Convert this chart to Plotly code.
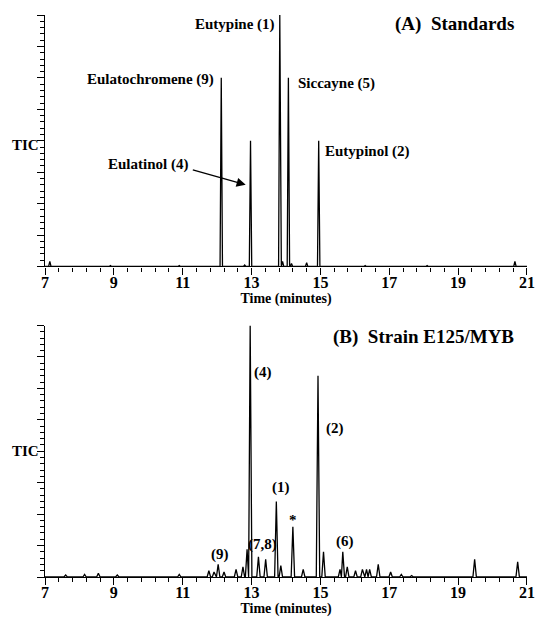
import plotly.graph_objects as go
from plotly.subplots import make_subplots

# ---------------- data ----------------
# Panel A (standards): retention time (min) and relative TIC height
std_times = [7.14, 8.9, 10.9, 12.12, 12.8, 12.97, 13.82, 13.9, 14.07, 14.16, 14.6, 14.95, 16.3, 18.1, 20.65]
std_heights = [0.02, 0.004, 0.004, 0.75, 0.006, 0.50, 1.0, 0.02, 0.75, 0.012, 0.015, 0.50, 0.004, 0.004, 0.02]

# Panel B (strain E125/MYB)
strain_times = [7.6, 8.15, 8.55, 9.1, 10.9, 11.76, 11.91, 12.03, 12.2, 12.55, 12.75, 12.87,
                12.96, 13.2, 13.41, 13.72, 13.85, 14.2, 14.5, 14.93, 15.09, 15.57, 15.65,
                15.78, 16.02, 16.22, 16.34, 16.43, 16.68, 17.04, 17.35, 17.65, 19.48, 20.73]
strain_heights = [0.008, 0.01, 0.015, 0.008, 0.01, 0.025, 0.02, 0.05, 0.02, 0.03, 0.04, 0.11,
                  1.0, 0.08, 0.07, 0.30, 0.045, 0.20, 0.03, 0.80, 0.10, 0.03, 0.10,
                  0.04, 0.025, 0.03, 0.03, 0.03, 0.05, 0.02, 0.01, 0.006, 0.07, 0.06]

x_start, x_end = 7, 21
x_tick_vals = [7, 9, 11, 13, 15, 17, 19, 21]
x_tick_text = ["7", "9", "11", "13", "15", "17", "19", "21"]

std_labels = ["Eutypine (1)", "Eulatochromene (9)", "Siccayne (5)", "Eulatinol (4)", "Eutypinol (2)"]
strain_labels = ["(4)", "(2)", "(1)", "*", "(6)", "(7,8)", "(9)"]


def trace_xy(times, heights, hw):
    xs, ys = [x_start], [0.0]
    n = len(times)
    for i, (t, h) in enumerate(zip(times, heights)):
        left = t - hw
        right = t + hw
        if i > 0:
            left = max(left, (times[i - 1] + t) / 2)
        if i < n - 1:
            right = min(right, (times[i + 1] + t) / 2)
        xs += [left, t, right]
        ys += [0.0, h, 0.0]
    xs.append(x_end)
    ys.append(0.0)
    return xs, ys


FONT = "Liberation Serif"

fig = make_subplots(rows=2, cols=1, vertical_spacing=0.105)

xa, ya = trace_xy(std_times, std_heights, 0.035)
fig.add_trace(go.Scatter(x=xa, y=ya, mode="lines", line=dict(color="black", width=1.3),
                         showlegend=False, hoverinfo="skip", cliponaxis=False), row=1, col=1)
xb, yb = trace_xy(strain_times, strain_heights, 0.05)
fig.add_trace(go.Scatter(x=xb, y=yb, mode="lines", line=dict(color="black", width=1.3),
                         showlegend=False, hoverinfo="skip", cliponaxis=False), row=2, col=1)

xaxis_style = dict(
    range=[x_start, x_end + 0.001], showline=True, linecolor="black", linewidth=1.2,
    ticks="outside", ticklen=7, tickwidth=1.2, tickcolor="black",
    tickvals=x_tick_vals, ticktext=x_tick_text, ticklabelstandoff=-6,
    ticklabeloverflow="allow", automargin=False,
    tickfont=dict(family=FONT, size=16, color="black", weight="bold"),
    minor=dict(dtick=0.4, tick0=7, ticks="outside", ticklen=4, tickwidth=1, tickcolor="black"),
    showgrid=False, zeroline=False, mirror=False,
    title=dict(text="Time (minutes)", font=dict(family=FONT, size=14, color="black", weight="bold"),
               standoff=0),
)
yaxis_style = dict(
    range=[0, 1.0], showline=True, linecolor="black", linewidth=1.2,
    ticks="outside", ticklen=7, tickwidth=1.2, tickcolor="black",
    dtick=0.125, tick0=0, showticklabels=False, automargin=False,
    minor=dict(dtick=0.025, ticks="outside", ticklen=3.5, tickwidth=1, tickcolor="black"),
    showgrid=False, zeroline=False,
)
fig.update_xaxes(**xaxis_style)
fig.update_yaxes(**yaxis_style)

fig.update_layout(
    width=537, height=623,
    margin=dict(l=45, r=10, t=15, b=46),
    plot_bgcolor="white", paper_bgcolor="white",
    font=dict(family=FONT, color="black"),
)

bold = dict(family=FONT, size=15, color="black", weight="bold")
big = dict(family=FONT, size=19, color="black", weight="bold")

# Panel A annotations
ann_a = [
    (std_labels[0], 12.52, 0.964),
    (std_labels[1], 10.06, 0.743),
    (std_labels[2], 15.48, 0.727),
    (std_labels[3], 9.99, 0.406),
    (std_labels[4], 16.38, 0.458),
]
for txt, x, y in ann_a:
    fig.add_annotation(text=txt, x=x, y=y, xref="x", yref="y", showarrow=False, font=bold)
fig.add_annotation(text="(A)  Standards", x=18.9, y=0.964, xref="x", yref="y", showarrow=False, font=big)
fig.add_annotation(text="TIC", x=-0.04, y=0.482, xref="paper", yref="y", xanchor="center",
                   showarrow=False, font=bold)
# arrow to Eulatinol peak
fig.add_annotation(x=12.83, y=0.325, ax=11.25, ay=0.386, xref="x", yref="y", axref="x", ayref="y",
                   text="", showarrow=True, arrowhead=2, arrowsize=1.4, arrowwidth=1.3, arrowcolor="black")

# Panel B annotations
fig.add_annotation(text="(B)  Strain E125/MYB", x=17.99, y=0.953, xref="x2", yref="y2",
                   showarrow=False, font=big)
ann_b = [
    (strain_labels[0], 13.34, 0.815),
    (strain_labels[1], 15.41, 0.59),
    (strain_labels[2], 13.85, 0.354),
    (strain_labels[3], 14.21, 0.225),
    (strain_labels[4], 15.72, 0.142),
    (strain_labels[5], 13.33, 0.13),
    (strain_labels[6], 12.07, 0.09),
]
for txt, x, y in ann_b:
    fig.add_annotation(text=txt, x=x, y=y, xref="x2", yref="y2", showarrow=False, font=bold)
fig.add_annotation(text="TIC", x=-0.04, y=0.5, xref="paper", yref="y2", xanchor="center",
                   showarrow=False, font=bold)

fig.write_html("out.html", config={"displayModeBar": False},
               post_script="document.body.style.margin='0px';")
